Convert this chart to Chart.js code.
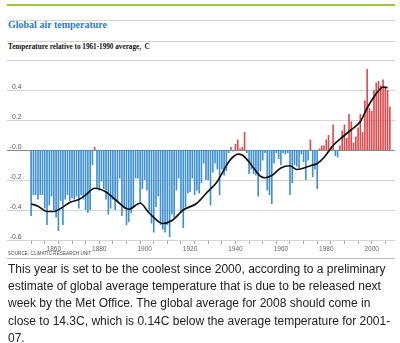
<!DOCTYPE html>
<html>
<head>
<meta charset="utf-8">
<script src="https://cdn.jsdelivr.net/npm/chart.js@4.4.1/dist/chart.umd.min.js"></script>
<style>
  html, body { margin: 0; padding: 0; background: #fff; }
  body { width: 400px; height: 343px; position: relative; overflow: hidden; }
  .rule { position: absolute; left: 7px; width: 388px; height: 1px; background: #d2d2d2; }
  #green { top: 4px; height: 2px; background: #9ac53c; }
  #title { position: absolute; left: 8px; top: 19px; font: bold 10px "Liberation Serif", serif; color: #2b7cc3; white-space: nowrap; }
  #subtitle { position: absolute; left: 8px; top: 43px; font: bold 7.2px "Liberation Serif", serif; color: #111; white-space: nowrap; }
  #chart { position: absolute; left: 0; top: 0; }
  #source { position: absolute; left: 8px; top: 251px; font: 4.5px "Liberation Sans", sans-serif; color: #444; white-space: nowrap; letter-spacing: 0.1px; }
  #text { position: absolute; left: 8px; top: 261px; font: 12px/17.2px "Liberation Sans", Arial, sans-serif; color: #222; }
  #text div { white-space: nowrap; }
</style>
</head>
<body>
<div class="rule" id="green"></div>
<div class="rule" style="top:20px"></div>
<div id="title">Global air temperature</div>
<div class="rule" style="top:41px"></div>
<div id="subtitle">Temperature relative to 1961-1990 average,&nbsp; C</div>
<canvas id="chart" width="400" height="258"></canvas>
<div id="source">SOURCE: CLIMATIC RESEARCH UNIT</div>
<div class="rule" style="top:258px;background:#bdbdbd"></div>
<div id="text">
  <div>This year is set to be the coolest since 2000, according to a preliminary</div>
  <div>estimate of global average temperature that is due to be released next</div>
  <div>week by the Met Office. The global average for 2008 should come in</div>
  <div>close to 14.3C, which is 0.14C below the average temperature for 2001-</div>
  <div>07.</div>
</div>
<script>
// yearly anomalies, 1850 - 2008
const years = [];
for (let y = 1850; y <= 2008; y++) years.push(String(y));

const anomalies = [
  -0.44, -0.30, -0.30, -0.33, -0.30, -0.30, -0.39, -0.50, -0.37, -0.31,
  -0.40, -0.45, -0.54, -0.34, -0.50, -0.33, -0.30, -0.34, -0.32, -0.33,
  -0.31, -0.39, -0.30, -0.33, -0.40, -0.42, -0.40, -0.10, 0.02, -0.26,
  -0.27, -0.21, -0.26, -0.33, -0.43, -0.39, -0.33, -0.40, -0.34, -0.19,
  -0.44, -0.39, -0.50, -0.48, -0.42, -0.38, -0.19, -0.19, -0.36, -0.26,
  -0.20, -0.27, -0.41, -0.49, -0.55, -0.38, -0.31, -0.50, -0.53, -0.55,
  -0.50, -0.58, -0.43, -0.45, -0.27, -0.19, -0.42, -0.52, -0.38, -0.29,
  -0.28, -0.19, -0.30, -0.27, -0.29, -0.22, -0.09, -0.20, -0.20, -0.37,
  -0.15, -0.09, -0.13, -0.30, -0.13, -0.17, -0.14, -0.02, 0.02, -0.01,
  0.04, 0.07, 0.01, 0.02, 0.12, -0.02, -0.16, -0.13, -0.16, -0.17,
  -0.31, -0.14, -0.07, -0.02, -0.27, -0.30, -0.36, -0.09, -0.02, -0.06,
  -0.10, -0.02, -0.03, -0.02, -0.30, -0.22, -0.10, -0.11, -0.12, -0.03,
  -0.08, -0.20, -0.07, 0.07, -0.18, -0.13, -0.26, 0.01, 0.03, 0.03,
  0.07, 0.10, 0.02, 0.17, -0.04, -0.05, 0.03, 0.13, 0.17, 0.08,
  0.24, 0.19, 0.05, 0.09, 0.15, 0.24, 0.12, 0.33, 0.54, 0.28,
  0.26, 0.40, 0.45, 0.46, 0.43, 0.47, 0.42, 0.40, 0.29
];

// smoothed trend, read at these years
const smoothYears = [
  1850, 1853, 1857, 1860, 1863, 1867, 1871, 1874, 1878, 1883, 1887, 1893,
  1898, 1902, 1908, 1912, 1917, 1923, 1927, 1932, 1935, 1937, 1939, 1941,
  1943, 1946, 1948, 1951, 1953, 1956, 1960, 1964, 1967, 1969, 1973, 1976,
  1979, 1981, 1983, 1987, 1991, 1995, 1998, 2001, 2003, 2005, 2007
];
const smoothValues = [
  -0.36, -0.375, -0.41, -0.41, -0.39, -0.35, -0.33, -0.30, -0.255, -0.28, -0.33, -0.395,
  -0.355, -0.42, -0.49, -0.47, -0.40, -0.355, -0.29, -0.21, -0.13, -0.08, -0.045, -0.027,
  -0.033, -0.08, -0.12, -0.175, -0.185, -0.17, -0.12, -0.105, -0.13, -0.125, -0.105, -0.09,
  -0.05, -0.01, 0.03, 0.085, 0.135, 0.19, 0.28, 0.355, 0.395, 0.42, 0.415
];

const yTicks = [0.6, 0.4, 0.2, 0, -0.2, -0.4, -0.6];
const yTickLabels = ['', '0.4', '0.2', '-0.0', '-0.2', '-0.4', '-0.6'];

const BLUE = '#3e90d4';
const RED = '#e04a4d';

// horizontal rules run past the plot on the left, labels sit on top of them
const yRules = {
  id: 'yRules',
  beforeDatasetsDraw(chart) {
    const ctx = chart.ctx;
    const y = chart.scales.y;
    ctx.save();
    ctx.font = '6.8px "Liberation Sans", sans-serif';
    ctx.textAlign = 'right';
    ctx.textBaseline = 'alphabetic';
    for (let i = 0; i < yTicks.length; i++) {
      const py = Math.round(y.getPixelForValue(yTicks[i])) + 0.5;
      ctx.strokeStyle = yTicks[i] === 0 ? '#8a8a8a' : '#d4d4d4';
      ctx.lineWidth = 1;
      ctx.beginPath();
      ctx.moveTo(7, py);
      ctx.lineTo(395, py);
      ctx.stroke();
      ctx.fillStyle = '#555';
      ctx.fillText(yTickLabels[i], 21.5, py - 2);
    }
    ctx.restore();
  }
};

const smoothPoints = smoothYears.map((yr, i) => ({x: String(yr), y: smoothValues[i]}));

new Chart(document.getElementById('chart'), {
  type: 'bar',
  data: {
    labels: years,
    datasets: [
      {
        type: 'line',
        data: smoothPoints,
        borderColor: '#111',
        borderWidth: 1.7,
        pointRadius: 0,
        tension: 0.4,
        cubicInterpolationMode: 'monotone',
        fill: false,
        order: 0
      },
      {
        data: anomalies,
        backgroundColor: ctx => ctx.raw >= 0 ? RED : BLUE,
        barPercentage: 0.72,
        categoryPercentage: 1,
        order: 1
      }
    ]
  },
  options: {
    responsive: false,
    animation: false,
    layout: { padding: { left: 30, right: 9, top: 60, bottom: 4 } },
    plugins: { legend: { display: false }, tooltip: { enabled: false } },
    scales: {
      x: {
        offset: true,
        border: { display: false },
        grid: {
          offset: false,
          drawOnChartArea: false,
          drawTicks: true,
          tickLength: 4,
          color: ctx => ctx.index % 6 === 0 ? '#a8a8a8' : 'rgba(0,0,0,0)'
        },
        ticks: {
          autoSkip: false,
          maxRotation: 0,
          padding: 1,
          color: '#666',
          font: { family: 'Liberation Sans', size: 6.5 },
          callback: function (value) {
            const yr = Number(this.getLabelForValue(value));
            return yr % 20 === 0 ? String(yr) : '';
          }
        },
        afterFit: scale => { scale.height = 14; }
      },
      y: {
        display: false,
        min: -0.6,
        max: 0.6
      }
    }
  },
  plugins: [yRules]
});
</script>
</body>
</html>
